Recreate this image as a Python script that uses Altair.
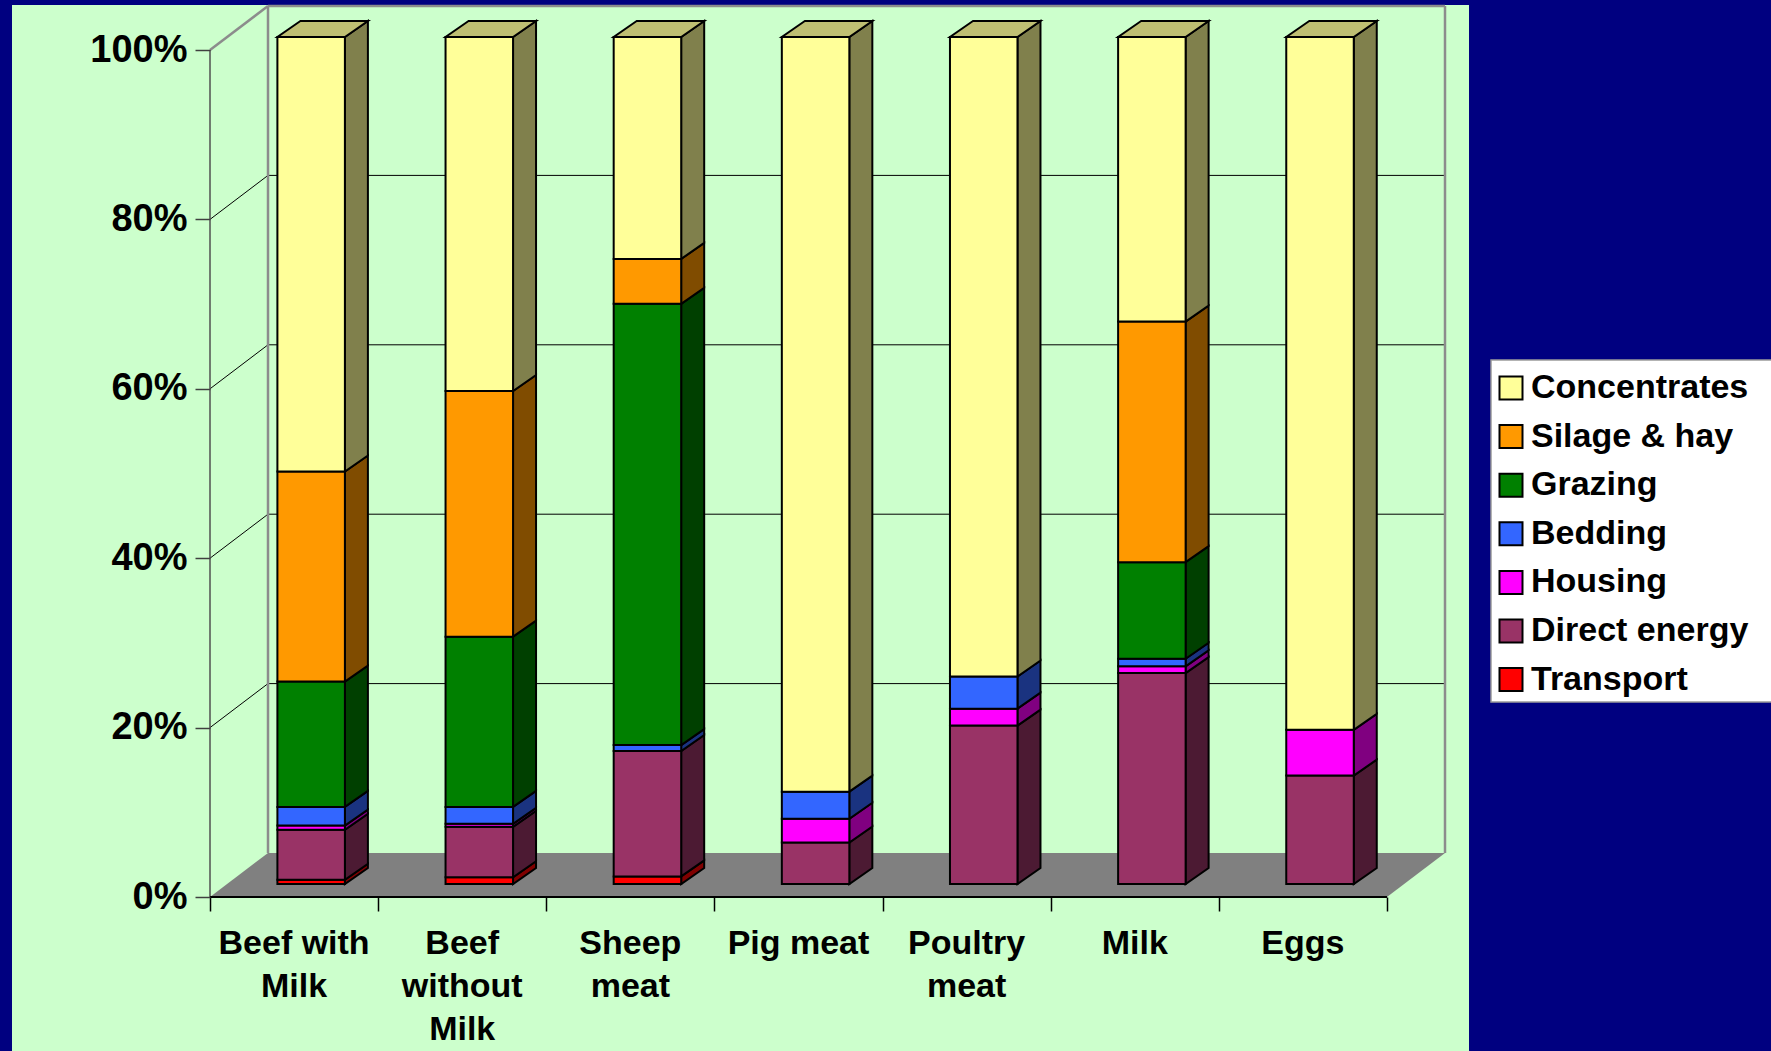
import altair as alt
import pandas as pd

# ---- data ---------------------------------------------------------------
categories = ["Beef with Milk", "Beef without Milk", "Sheep meat", "Pig meat",
              "Poultry meat", "Milk", "Eggs"]
category_labels = ["Beef with\nMilk", "Beef\nwithout\nMilk", "Sheep\nmeat", "Pig meat",
                   "Poultry\nmeat", "Milk", "Eggs"]

# legend order (top of the stack first)
series_names = ["Concentrates", "Silage & hay", "Grazing", "Bedding",
                "Housing", "Direct energy", "Transport"]

# share of each input, % per product
concentrates = [51.3, 41.8, 26.2, 89.1, 75.5, 33.6, 81.8]
silage_hay = [24.8, 29.0, 5.3, 0.0, 0.0, 28.4, 0.0]
grazing = [14.8, 20.1, 52.1, 0.0, 0.0, 11.4, 0.0]
bedding = [2.2, 2.0, 0.7, 3.2, 3.8, 0.9, 0.0]
housing = [0.5, 0.35, 0.0, 2.8, 2.0, 0.8, 5.4]
direct_energy = [5.9, 5.95, 14.8, 4.9, 18.7, 24.9, 12.8]
transport = [0.5, 0.8, 0.9, 0.0, 0.0, 0.0, 0.0]

series_values = [concentrates, silage_hay, grazing, bedding, housing,
                 direct_energy, transport]

front_colors = ["#FFFF99", "#FF9900", "#008000", "#3366FF", "#FF00FF",
                "#993366", "#FF0000"]

tick_values = [0, 20, 40, 60, 80, 100]

# ---- 3-D geometry, in data units (1 = one category slot on x, 1 = 1 % on y)
SLOT_PX = 168.14
PCT_PX = 8.47
FLOOR_DX = 58 / SLOT_PX
FLOOR_DY = 44 / PCT_PX
BAR_LEFT = 67.4 / SLOT_PX
BAR_W = 67.5 / SLOT_PX
SIDE_DX = 23 / SLOT_PX
SIDE_DY = 16 / PCT_PX
BAR_BASE = 13 / PCT_PX

n = len(categories)
x_max = n + FLOOR_DX
y_max = 100 + FLOOR_DY
plot_w = round(x_max * SLOT_PX)
plot_h = round(y_max * PCT_PX)
LEFT, TOP = 210, 6

FONT = "Liberation Sans"


def shade(hex_color, f):
    h = hex_color.lstrip("#")
    r, g, b = (int(h[i:i + 2], 16) for i in (0, 2, 4))
    return "#{:02X}{:02X}{:02X}".format(round(r * f), round(g * f), round(b * f))


# ---- build faces of the stacked boxes -------------------------------------
front_rows, side_rows, top_rows = [], [], []
for i, cat in enumerate(categories):
    total = sum(vals[i] for vals in series_values)
    xl = i + BAR_LEFT
    xr = xl + BAR_W
    cum = 0.0
    top_series = None
    for s in reversed(range(len(series_names))):
        v = series_values[s][i] / total * 100
        if v <= 0:
            continue
        lo, hi = cum + BAR_BASE, cum + v + BAR_BASE
        front_rows.append({"category": cat, "series": series_names[s],
                           "x0": xl, "x1": xr, "y0": lo, "y1": hi})
        face = f"{i}-{s}"
        side = shade(front_colors[s], 0.5)
        side_rows.append({"face": face, "x": xr, "y_hi": hi, "y_lo": lo, "shade": side})
        side_rows.append({"face": face, "x": xr + SIDE_DX, "y_hi": hi + SIDE_DY,
                          "y_lo": lo + SIDE_DY, "shade": side})
        cum += v
        top_series = s
    top = cum + BAR_BASE
    tshade = shade(front_colors[top_series], 0.75)
    top_rows.append({"face": str(i), "y": top, "x_l": xl, "x_r": xr, "shade": tshade})
    top_rows.append({"face": str(i), "y": top + SIDE_DY, "x_l": xl + SIDE_DX,
                     "x_r": xr + SIDE_DX, "shade": tshade})

front_df = pd.DataFrame(front_rows)
side_df = pd.DataFrame(side_rows)
top_df = pd.DataFrame(top_rows)

label_df = pd.DataFrame({"x": [i + 0.5 for i in range(n)], "y": [0] * n,
                         "label": category_labels})

xs = alt.Scale(domain=[0, x_max], nice=False, zero=False)
ys = alt.Scale(domain=[0, y_max], nice=False, zero=False)

# the same axis definitions go on every layer so the merged axes survive
x_axis = alt.Axis(values=list(range(n + 1)), labels=False, ticks=True, tickSize=14,
                  tickColor="black", tickWidth=1.5, domain=False, grid=False,
                  title=None, zindex=1)
y_axis = alt.Axis(values=tick_values, labelExpr="datum.value + '%'", tickSize=15,
                  tickColor="#404040", tickWidth=1.5, labelPadding=8, domain=False,
                  grid=False, title=None, labelFont=FONT, labelFontSize=38,
                  labelFontWeight="bold", labelColor="black", zindex=1)


def X(field, **kw):
    return alt.X(field, scale=xs, axis=x_axis, **kw)


def Y(field, **kw):
    return alt.Y(field, scale=ys, axis=y_axis, **kw)


one = pd.DataFrame({"k": [0]})

# green panel behind the plot
panel = alt.Chart(one).mark_rect(color="#CCFFCC").encode(
    x=alt.value(12 - LEFT), x2=alt.value(1469 - LEFT),
    y=alt.value(5 - TOP), y2=alt.value(1051 - TOP),
)

# white legend box, running off the right edge of the page
legend_box = alt.Chart(one).mark_rect(fill="white", stroke="#9A9A9A",
                                      strokeWidth=1.5).encode(
    x=alt.value(1491 - LEFT), x2=alt.value(1800 - LEFT),
    y=alt.value(360 - TOP), y2=alt.value(702 - TOP),
)

# floor
floor_df = pd.DataFrame({"y": [0, FLOOR_DY], "x_l": [0, FLOOR_DX],
                         "x_r": [n, n + FLOOR_DX]})
floor = alt.Chart(floor_df).mark_area(orient="horizontal", color="#808080",
                                      opacity=1).encode(
    y=Y("y:Q"),
    x=X("x_l:Q", stack=None),
    x2="x_r:Q",
)

# back-wall gridlines and the matching lines on the side wall
grid_levels = [v for v in tick_values if 0 < v < 100]
back_grid = pd.DataFrame({"x": [FLOOR_DX] * len(grid_levels),
                          "x2": [n + FLOOR_DX] * len(grid_levels),
                          "y": [v + FLOOR_DY for v in grid_levels],
                          "y2": [v + FLOOR_DY for v in grid_levels]})
side_grid = pd.DataFrame({"x": [0] * len(grid_levels),
                          "x2": [FLOOR_DX] * len(grid_levels),
                          "y": grid_levels,
                          "y2": [v + FLOOR_DY for v in grid_levels]})
grid_df = pd.concat([back_grid, side_grid], ignore_index=True)


def segments(df, color, width):
    return alt.Chart(df).mark_rule(color=color, strokeWidth=width).encode(
        x=X("x:Q"), x2="x2:Q",
        y=Y("y:Q"), y2="y2:Q",
    )


grid = segments(grid_df, "black", 1)

wall_df = pd.DataFrame({
    "x": [FLOOR_DX, FLOOR_DX, n + FLOOR_DX, 0],
    "x2": [FLOOR_DX, n + FLOOR_DX, n + FLOOR_DX, FLOOR_DX],
    "y": [FLOOR_DY, 100 + FLOOR_DY, FLOOR_DY, 100],
    "y2": [100 + FLOOR_DY, 100 + FLOOR_DY, 100 + FLOOR_DY, 100 + FLOOR_DY],
})
walls = segments(wall_df, "#8C8C8C", 2.5)

front_axis = segments(pd.DataFrame({"x": [0], "x2": [0], "y": [0], "y2": [100]}),
                      "#505050", 1.5)
front_edge = segments(pd.DataFrame({"x": [0], "x2": [n], "y": [0], "y2": [0]}),
                      "black", 2)

sides = alt.Chart(side_df).mark_area(orient="vertical", stroke="black", strokeWidth=2,
                                     opacity=1).encode(
    x=X("x:Q"),
    y=Y("y_hi:Q", stack=None),
    y2="y_lo:Q",
    fill=alt.Fill("shade:N", scale=None),
    detail="face:N",
)

tops = alt.Chart(top_df).mark_area(orient="horizontal", stroke="black", strokeWidth=2,
                                   opacity=1).encode(
    y=Y("y:Q"),
    x=X("x_l:Q", stack=None),
    x2="x_r:Q",
    fill=alt.Fill("shade:N", scale=None),
    detail="face:N",
)

fronts = alt.Chart(front_df).mark_rect(stroke="black", strokeWidth=2, opacity=1).encode(
    x=X("x0:Q"), x2="x1:Q",
    y=Y("y0:Q"), y2="y1:Q",
    color=alt.Color("series:N",
                    scale=alt.Scale(domain=series_names, range=front_colors),
                    legend=alt.Legend(
                        title=None, orient="none", legendX=1491 - LEFT,
                        legendY=361 - TOP, direction="vertical", padding=10,
                        symbolType="square", symbolSize=529, symbolOffset=-7,
                        symbolStrokeColor="black", symbolStrokeWidth=2,
                        symbolOpacity=1, labelFont=FONT, labelFontSize=34,
                        labelFontWeight="bold", labelColor="black",
                        labelOffset=3, labelLimit=600, rowPadding=14.6)),
    tooltip=["category:N", "series:N"],
)

labels = alt.Chart(label_df).mark_text(
    font=FONT, fontSize=34, fontWeight="bold", color="black", align="center",
    baseline="alphabetic", lineBreak="\n", lineHeight=43, dy=57,
).encode(
    x=X("x:Q"),
    y=Y("y:Q"),
    text="label:N",
)

chart = alt.layer(
    panel, legend_box, floor, grid, walls, front_axis, front_edge,
    sides, tops, fronts, labels
).properties(
    width=plot_w, height=plot_h,
    padding={"left": LEFT, "top": TOP, "right": 1771 - LEFT - plot_w,
             "bottom": 1051 - TOP - plot_h},
    autosize=alt.AutoSizeParams(type="none"),
    background="#000080",
).configure_view(strokeWidth=0)

chart.save("out.html", embed_options={"renderer": "svg", "actions": False})
